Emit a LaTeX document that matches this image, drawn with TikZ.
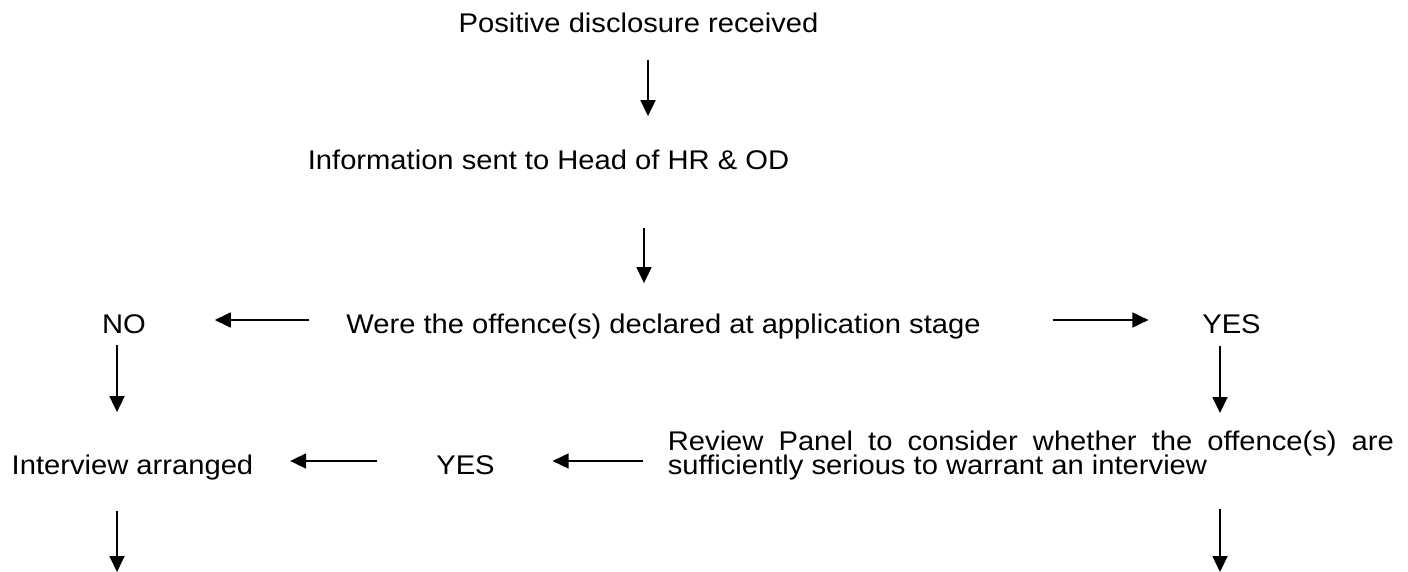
\documentclass[tikz,border=0pt]{standalone}
\usepackage{fontspec}
\setmainfont{Liberation Sans}[FakeStretch=1.08]
\usetikzlibrary{arrows.meta}
\newcommand{\panelsetup}{\lineskiplimit=-20pt \hyphenpenalty=10000 \tolerance=10000 }
\tikzset{
	node_txt/.style = {
		inner sep=0pt,
		anchor=base,
		font={\fontsize{13.5}{11}\selectfont},
		text height=13pt,
		text depth=0pt
	},
	node_panel/.style = {
		inner sep=0pt,
		anchor=north west,
		text width=363pt,
		align=justify,
		font={\fontsize{13.5}{12}\selectfont\panelsetup}
	},
}

\begin{document}
\begin{tikzpicture}[x=0.5pt, y=-0.5pt, ->, >={Triangle[length=8pt,width=7.5pt]}, line width=0.9pt]
\useasboundingbox (0,0) rectangle (1408,572);
% texts
\node [node_txt] (pos) at (638.5,33) {Positive disclosure received};
\node [node_txt] (info) at (548.5,170) {Information sent to Head of HR \& OD};
\node [node_txt] (decl) at (663.5,333) {Were the offence(s) declared at application stage};
\node [node_txt] (no) at (124,333) {NO};
\node [node_txt] (yes_a) at (1231.5,333) {YES};
\node [node_txt] (intv) at (132.5,474) {Interview arranged};
\node [node_txt] (yes_b) at (465.5,474) {YES};
\node [node_panel] (panel) at (667,430.5) {Review Panel to consider whether the offence(s) are sufficiently serious to warrant an interview};
% arrow ends
\coordinate (a_pos) at ([xshift=4.75pt]pos.south);
\coordinate (a_decl) at ([xshift=-9.75pt]decl.north);
\coordinate (a_no) at ([xshift=-3.5pt]no.south);
\coordinate (a_yes) at ([xshift=-5.75pt]yes_a.south);
\coordinate (end_l) at (117,572);
\coordinate (end_r) at (1220,572);
% arrows
\draw [shorten <=13pt, shorten >=13.5pt] (a_pos) -- (a_pos |- info.north);
\draw [shorten <=28.5pt, shorten >=11.5pt] (a_decl |- info.south) -- (a_decl);
\draw [shorten <=18pt, shorten >=34pt] (decl.west) -- (decl.west -| no.east);
\draw [shorten <=35.5pt, shorten >=26.5pt] (decl.east) -- (decl.east -| yes_a.west);
\draw [shorten <=5.5pt, shorten >=17.5pt] (a_no) -- (a_no |- intv.north);
\draw [shorten <=6pt, shorten >=8.75pt] (a_yes) -- (a_yes |- panel.north);
\draw [shorten <=12pt, shorten >=28.5pt] (yes_b.east -| panel.west) -- (yes_b.east);
\draw [shorten <=29pt, shorten >=18pt] (yes_b.west) -- (yes_b.west -| intv.east);
\draw [shorten <=18pt] (end_l |- intv.south) -- (end_l);
\draw [shorten <=14pt] (end_r |- panel.south) -- (end_r);
\end{tikzpicture}
\end{document}
